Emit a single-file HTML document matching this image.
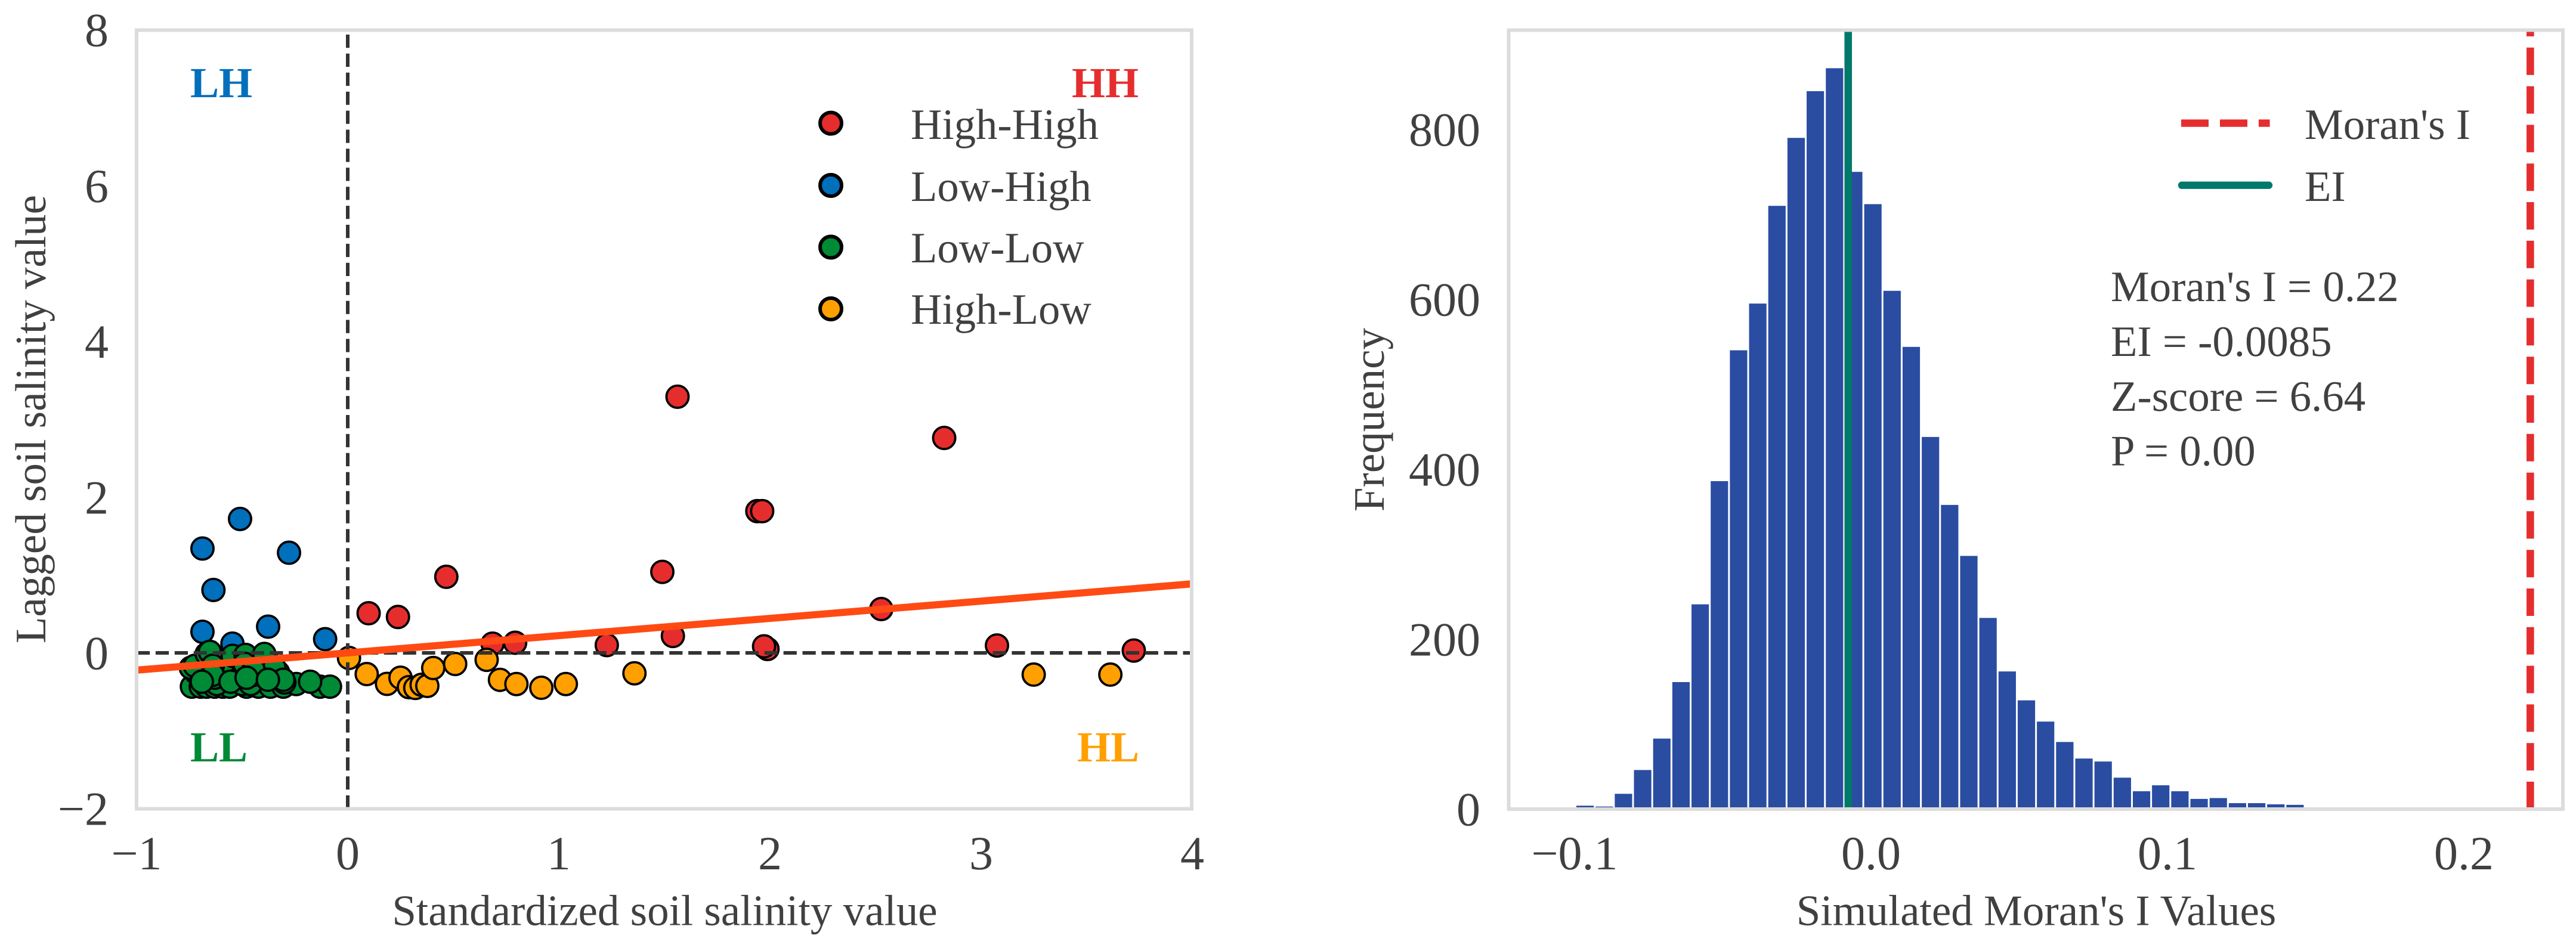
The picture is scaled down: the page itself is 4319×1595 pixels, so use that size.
<!DOCTYPE html>
<html lang="en">
<head>
<meta charset="utf-8">
<title>Moran scatter plot and permutation histogram</title>
<style>
html,body{margin:0;padding:0;background:#fff;}
svg{display:block;}
text{font-family:"Liberation Serif",serif;fill:#404040;text-rendering:geometricPrecision;}
</style>
</head>
<body>
<svg id="figure" xmlns="http://www.w3.org/2000/svg" width="4319" height="1595" viewBox="0 0 4319 1595">
  <rect x="0" y="0" width="4319" height="1595" fill="#ffffff"/>
  <defs>
    <clipPath id="clip-left"><rect x="229" y="50.5" width="1769" height="1306"/></clipPath>
    <clipPath id="clip-right"><rect x="2529.5" y="50.5" width="1767.5" height="1306.5"/></clipPath>
  </defs>

  <g id="scatter-panel">
    <g id="scatter-marks" clip-path="url(#clip-left)"></g>
    <g id="scatter-refs" clip-path="url(#clip-left)"></g>
    <rect x="229" y="50.5" width="1769" height="1306" fill="none" stroke="#dcdcdc" stroke-width="6"/>
    <g id="scatter-ticks"></g>
    <text x="1114.5" y="1551.5" font-size="73" text-anchor="middle">Standardized soil salinity value</text>
    <text x="76" y="703" font-size="73" text-anchor="middle" transform="rotate(-90 76 703)">Lagged soil salinity value</text>

    <text x="319" y="163" font-size="72" font-weight="bold" style="fill:#006fbc">LH</text>
    <text x="1797" y="163" font-size="72" font-weight="bold" style="fill:#e62d2e">HH</text>
    <text x="319" y="1277" font-size="72" font-weight="bold" style="fill:#008a36">LL</text>
    <text x="1806" y="1277" font-size="72" font-weight="bold" style="fill:#ffa000">HL</text>

    <g>
      <circle cx="1393" cy="206.6" r="18" fill="#e62d2e" stroke="#000" stroke-width="6"/>
      <text x="1527" y="233" font-size="72.7">High-High</text>
      <circle cx="1393" cy="311" r="18" fill="#006fbc" stroke="#000" stroke-width="6"/>
      <text x="1527" y="337" font-size="72.7">Low-High</text>
      <circle cx="1393" cy="414.5" r="18" fill="#008a36" stroke="#000" stroke-width="6"/>
      <text x="1527" y="440" font-size="72.7">Low-Low</text>
      <circle cx="1393" cy="518" r="18" fill="#ffa000" stroke="#000" stroke-width="6"/>
      <text x="1527" y="543" font-size="72.7">High-Low</text>
    </g>
  </g>

  <g id="hist-panel">
    <g id="hist-bars" clip-path="url(#clip-right)"></g>
    <g id="hist-refs" clip-path="url(#clip-right)"></g>
    <rect x="2529.5" y="50.5" width="1767.5" height="1306.5" fill="none" stroke="#dcdcdc" stroke-width="6"/>
    <g id="hist-ticks"></g>
    <text x="3414" y="1551.5" font-size="73" text-anchor="middle">Simulated Moran's I Values</text>
    <text x="2320" y="704" font-size="73" text-anchor="middle" transform="rotate(-90 2320 704)">Frequency</text>

    <g>
      <line x1="3657" y1="206.6" x2="3805.6" y2="206.6" stroke="#e62d2e" stroke-width="12.4" stroke-dasharray="46 19"/>
      <text x="3864" y="233" font-size="72.8">Moran's I</text>
      <line x1="3658" y1="310.7" x2="3804" y2="310.7" stroke="#00796a" stroke-width="12.4" stroke-linecap="round"/>
      <text x="3864" y="337" font-size="72.8">EI</text>
    </g>

    <g>
      <text x="3539" y="505" font-size="72.8">Moran's I = 0.22</text>
      <text x="3539" y="597" font-size="72.8">EI = -0.0085</text>
      <text x="3539" y="689" font-size="72.8">Z-score = 6.64</text>
      <text x="3539" y="780.5" font-size="72.8">P = 0.00</text>
    </g>
  </g>
</svg>
<script>
// ---------- scatter data ----------
const highHighX = [0.099, 0.238, 0.467, 0.686, 0.793, 1.227, 1.49, 1.54, 1.562, 1.94, 1.963, 1.988, 1.972, 2.527, 2.825, 3.075, 3.723];
const highHighY = [0.509, 0.461, 0.977, 0.119, 0.13, 0.10, 1.04, 0.217, 3.29, 1.82, 1.82, 0.05, 0.084, 0.563, 2.76, 0.095, 0.03];
const lowHighX = [-0.688, -0.51, -0.278, -0.636, -0.688, -0.377, -0.546, -0.107];
const lowHighY = [1.34, 1.72, 1.286, 0.808, 0.271, 0.337, 0.119, 0.176];
const lowLowX = [-0.738, -0.696, -0.668, -0.63, -0.592, -0.559, -0.479, -0.423, -0.366, -0.305, -0.244, -0.131, -0.084, -0.62, -0.6, -0.58, -0.52, -0.52, -0.42, -0.4, -0.36, -0.7, -0.68, -0.72, -0.6, -0.56, -0.62, -0.42, -0.38, -0.33, -0.30, -0.5, -0.46, -0.743, -0.724, -0.668, -0.653, -0.583, -0.545, -0.484, -0.395, -0.347, -0.489, -0.639, -0.63, -0.639, -0.555, -0.446, -0.446, -0.446, -0.479, -0.305, -0.178, -0.378, -0.691];
const lowLowY = [-0.434, -0.434, -0.434, -0.434, -0.434, -0.434, -0.434, -0.434, -0.434, -0.434, -0.40, -0.434, -0.434, -0.40, -0.30, -0.25, -0.30, -0.20, -0.30, -0.20, -0.28, -0.28, -0.20, -0.25, -0.15, -0.08, -0.07, -0.08, -0.10, -0.25, -0.38, -0.40, -0.40, -0.191, -0.166, -0.013, 0.013, -0.115, -0.038, -0.026, -0.013, -0.191, -0.14, -0.166, -0.319, -0.281, -0.37, -0.281, -0.255, -0.217, -0.319, -0.345, -0.37, -0.345, -0.37];
const highLowX = [0.006, 0.09, 0.186, 0.25, 0.29, 0.32, 0.35, 0.377, 0.405, 0.509, 0.658, 0.721, 0.799, 0.917, 1.033, 1.358, 3.249, 3.612];
const highLowY = [-0.065, -0.272, -0.398, -0.319, -0.44, -0.45, -0.41, -0.424, -0.194, -0.143, -0.089, -0.346, -0.40, -0.448, -0.40, -0.262, -0.279, -0.279];
const regressionSlope = 0.2216;
const regressionIntercept = 0;
const scatterXTicks = [-1, 0, 1, 2, 3, 4];
const scatterYTicks = [-2, 0, 2, 4, 6, 8];

// ---------- histogram data ----------
const histCounts = [4, 3, 18, 46, 83, 149.5, 241, 386, 540, 595, 710, 790, 845, 872, 750, 712, 610, 544, 438, 358, 298, 225, 162, 128, 103, 79, 59.5, 56, 37, 21, 28, 21, 12, 13, 7, 7, 5.6, 5];
const histBinStart = -0.1005;
const histBinWidth = 0.006473;
const moransI = 0.2216;
const expectedI = -0.0085;
const histXTicks = [-0.1, 0.0, 0.1, 0.2];
const histYTicks = [0, 200, 400, 600, 800];

// ---------- axis functions ----------
const sx = v => 583 + v * 354;
const sy = v => 1095 - v * 130.6;
const hx = v => 3141 + v * 4970;
const hy = v => 1357 - v * 1.425;

const NS = 'http://www.w3.org/2000/svg';
const make = (tag, parent) => {
  const el = document.createElementNS(NS, tag);
  parent.appendChild(el);
  return el;
};
const fmtTick = s => s.replace('-', '\u2212');

// ---------- scatter ----------
const marks = document.getElementById('scatter-marks');
const drawGroup = (xs, ys, color) => {
  xs.forEach((x, i) => {
    const c = make('circle', marks);
    
    
    c.setAttribute('cx', sx(x));
    c.setAttribute('cy', sy(ys[i]));
    c.setAttribute('r', 18.6);
    c.setAttribute('fill', color);
    c.setAttribute('stroke', '#000');
    c.setAttribute('stroke-width', 3.8);
  });
};
drawGroup(highHighX, highHighY, '#e62d2e');
drawGroup(lowHighX, lowHighY, '#006fbc');
drawGroup(lowLowX, lowLowY, '#008a36');
drawGroup(highLowX, highLowY, '#ffa000');

const refs = document.getElementById('scatter-refs');
const hZero = make('line', refs);


hZero.setAttribute('x1', sx(-1));
hZero.setAttribute('x2', sx(4));
hZero.setAttribute('y1', sy(0));
hZero.setAttribute('y2', sy(0));
hZero.setAttribute('stroke', '#333');
hZero.setAttribute('stroke-width', 6);
hZero.setAttribute('stroke-dasharray', '22.2 9.7');

const vZero = make('line', refs);


vZero.setAttribute('x1', sx(0));
vZero.setAttribute('x2', sx(0));
vZero.setAttribute('y1', sy(-2));
vZero.setAttribute('y2', sy(8));
vZero.setAttribute('stroke', '#333');
vZero.setAttribute('stroke-width', 6);
vZero.setAttribute('stroke-dasharray', '22.2 9.7');

const reg = make('line', refs);


reg.setAttribute('x1', sx(-1));
reg.setAttribute('y1', sy(regressionSlope * -1 + regressionIntercept));
reg.setAttribute('x2', sx(4));
reg.setAttribute('y2', sy(regressionSlope * 4 + regressionIntercept));
reg.setAttribute('stroke', '#ff4a14');
reg.setAttribute('stroke-width', 12);

const sTicks = document.getElementById('scatter-ticks');
scatterXTicks.forEach(v => {
  const t = make('text', sTicks);
  
  
  t.setAttribute('x', sx(v));
  t.setAttribute('y', 1458);
  t.setAttribute('font-size', 80);
  t.setAttribute('text-anchor', 'middle');
  t.textContent = fmtTick(String(v));
});
scatterYTicks.forEach(v => {
  const t = make('text', sTicks);
  
  
  t.setAttribute('x', 182);
  t.setAttribute('y', sy(v) + 27.5);
  t.setAttribute('font-size', 80);
  t.setAttribute('text-anchor', 'end');
  t.textContent = fmtTick(String(v));
});

// ---------- histogram ----------
const bars = document.getElementById('hist-bars');
histCounts.forEach((count, i) => {
  const x0 = hx(histBinStart + i * histBinWidth);
  const x1 = hx(histBinStart + (i + 1) * histBinWidth);
  const r = make('rect', bars);
  
  
  r.setAttribute('x', x0 + 1.5);
  r.setAttribute('y', hy(count));
  r.setAttribute('width', x1 - x0 - 3);
  r.setAttribute('height', hy(0) - hy(count));
  r.setAttribute('fill', '#2a4da2');
});

const hRefs = document.getElementById('hist-refs');
const eiLine = make('line', hRefs);


eiLine.setAttribute('x1', hx(expectedI));
eiLine.setAttribute('x2', hx(expectedI));
eiLine.setAttribute('y1', 1357);
eiLine.setAttribute('y2', 50.5);
eiLine.setAttribute('stroke', '#00796a');
eiLine.setAttribute('stroke-width', 12.6);

const miLine = make('line', hRefs);


miLine.setAttribute('x1', hx(moransI));
miLine.setAttribute('x2', hx(moransI));
miLine.setAttribute('y1', 1357);
miLine.setAttribute('y2', 50.5);
miLine.setAttribute('stroke', '#e62d2e');
miLine.setAttribute('stroke-width', 12.6);
miLine.setAttribute('stroke-dasharray', '46 18.8');

const hTicks = document.getElementById('hist-ticks');
histXTicks.forEach(v => {
  const t = make('text', hTicks);
  
  
  t.setAttribute('x', hx(v) - 4);
  t.setAttribute('y', 1458);
  t.setAttribute('font-size', 80);
  t.setAttribute('text-anchor', 'middle');
  t.textContent = fmtTick(v.toFixed(1));
});
histYTicks.forEach(v => {
  const t = make('text', hTicks);
  
  
  t.setAttribute('x', 2482);
  t.setAttribute('y', hy(v) + 27.5);
  t.setAttribute('font-size', 80);
  t.setAttribute('text-anchor', 'end');
  t.textContent = String(v);
});
</script>
</body>
</html>
